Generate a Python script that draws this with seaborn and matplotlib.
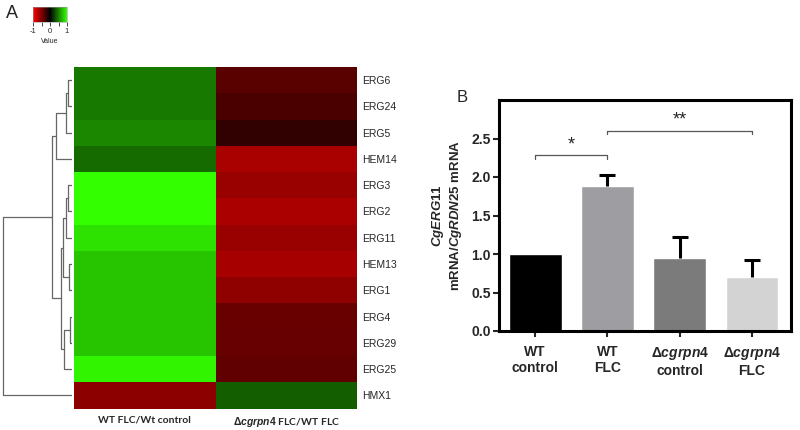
import numpy as np
import pandas as pd
import matplotlib
matplotlib.use('Agg')
import matplotlib.pyplot as plt
from matplotlib.colors import LinearSegmentedColormap
import seaborn as sns

sns.set_style('white')
plt.rcParams['font.family'] = ['Liberation Sans', 'DejaVu Sans']
plt.rcParams['mathtext.fontset'] = 'custom'
plt.rcParams['mathtext.it'] = 'Liberation Sans:italic:bold'
plt.rcParams['mathtext.rm'] = 'Liberation Sans:bold'
plt.rcParams['mathtext.bf'] = 'Liberation Sans:bold'

# panel A data (rows in dendrogram order)
genes = ['ERG6', 'ERG24', 'ERG5', 'HEM14', 'ERG3', 'ERG2', 'ERG11',
         'HEM13', 'ERG1', 'ERG4', 'ERG29', 'ERG25', 'HMX1']
wt_ratio = [0.47, 0.47, 0.53, 0.42, 1.0, 1.0, 0.88, 0.77, 0.77, 0.77, 0.77, 0.96, -0.55]
mut_ratio = [-0.35, -0.29, -0.19, -0.66, -0.60, -0.67, -0.60, -0.65, -0.56, -0.41, -0.40, -0.38, 0.37]
col_labels = ['WT FLC/Wt control', r'$\it{Δcgrpn4}$ FLC/WT FLC']

# dendrogram merges, scipy style: index >= 13 means earlier merge
merge_left = [0, 13, 14, 4, 16, 7, 17, 9, 20, 19, 15, 23]
merge_right = [1, 2, 3, 5, 6, 8, 18, 10, 11, 21, 22, 12]
merge_height = [4, 6, 16, 4, 6.5, 3.5, 9.5, 2.5, 8.5, 11.3, 20, 69]

# panel B data
groups = ['WT\ncontrol', 'WT\nFLC', '$\\it{Δcgrpn4}$\ncontrol', '$\\it{Δcgrpn4}$\nFLC']
expr = [1.0, 1.88, 0.95, 0.70]
expr_err = [0.0, 0.15, 0.27, 0.22]
bar_colors = ['#000000', '#9e9ea2', '#7b7b7b', '#d3d3d3']

fig = plt.figure(figsize=(8, 4.3), dpi=100)

# ---- heatmap
ax_h = fig.add_axes([74 / 800, (430 - 408.5) / 430, 283 / 800, 341.5 / 430])
ax_cb = fig.add_axes([33 / 800, (430 - 22) / 430, 34 / 800, 15 / 430])
cmap = LinearSegmentedColormap.from_list('rg', ['#ff0000', '#000000', '#33ff00'])
df = pd.DataFrame({'a': wt_ratio, 'b': mut_ratio}, index=genes)
sns.heatmap(df, ax=ax_h, cmap=cmap, vmin=-1, vmax=1, cbar_ax=ax_cb,
            cbar_kws={'orientation': 'horizontal', 'ticks': [-1, -0.5, 0, 0.5, 1]},
            xticklabels=col_labels, yticklabels=genes)
ax_h.yaxis.tick_right()
ax_h.tick_params(axis='y', length=0, pad=4, labelsize=7.5, rotation=0)
ax_h.tick_params(axis='x', length=0, pad=5, labelsize=7.5)
for t in ax_h.get_xticklabels():
    t.set_fontweight('bold')
    t.set_family(['Lato', 'DejaVu Sans'])

cb = ax_h.collections[0].colorbar
cb.set_ticklabels(['-1', '', '0', '', '1'])
cb.ax.tick_params(labelsize=5.5, length=3, width=0.6, pad=1.5)
cb.outline.set_linewidth(0.4)
cb.outline.set_edgecolor('#999999')
cb.ax.set_xlabel('Value', fontsize=5, labelpad=2)

# ---- dendrogram
ax_d = fig.add_axes([2 / 800, (430 - 408.5) / 430, 70 / 800, 341.5 / 430])
n = len(genes)
pos = {i: i + 0.5 for i in range(n)}
hgt = {i: 0.0 for i in range(n)}
for k, (a, b, h) in enumerate(zip(merge_left, merge_right, merge_height)):
    ax_d.plot([hgt[a], h, h, hgt[b]], [pos[a], pos[a], pos[b], pos[b]],
              color='#666666', lw=0.9)
    pos[n + k] = (pos[a] + pos[b]) / 2
    hgt[n + k] = h
ax_d.set_xlim(70, 0)
ax_d.set_ylim(n, 0)
ax_d.axis('off')

fig.text(6 / 800, 1 - 13 / 430, 'A', fontsize=13, va='center', ha='left')

# ---- bar chart
ax_b = fig.add_axes([499 / 800, (430 - 331) / 430, 292 / 800, 231 / 430])
bdf = pd.DataFrame({'group': groups, 'expr': expr})
sns.barplot(data=bdf, x='group', y='expr', hue='group', palette=bar_colors,
            width=0.73, errorbar=None, legend=False, ax=ax_b, saturation=1)

# upper-only error bars, skip bars without error
idx = [i for i, e in enumerate(expr_err) if e > 0]
ex = np.array(idx)
ey = np.array([expr[i] for i in idx])
ee = np.array([expr_err[i] for i in idx])
_, caps, _ = ax_b.errorbar(ex, ey, yerr=[np.zeros(len(ee)), ee], fmt='none',
                           ecolor='black', elinewidth=2.2, capsize=6, capthick=2.2)
caps[0].set_visible(False)

ax_b.set_xlim(-0.5, 3.54)
ax_b.set_ylim(0, 3.0)
ax_b.set_yticks([0, 0.5, 1.0, 1.5, 2.0, 2.5])
ax_b.set_yticklabels(['0.0', '0.5', '1.0', '1.5', '2.0', '2.5'])
for s in ax_b.spines.values():
    s.set_linewidth(2.2)
    s.set_color('black')
ax_b.tick_params(axis='both', direction='out', length=4, width=1.5, labelsize=10,
                 left=True, bottom=True, pad=2)
for t in ax_b.get_yticklabels():
    t.set_fontweight('bold')
ax_b.tick_params(axis='x', pad=6)
for t in ax_b.get_xticklabels():
    t.set_fontweight('bold')
ax_b.set_xlabel('')
ax_b.set_ylabel('$\\it{CgERG11}$\nmRNA/$\\it{CgRDN25}$ mRNA', fontsize=9.5,
                fontweight='bold', labelpad=5)

# significance brackets
def bracket(x0, x1, y, label):
    ax_b.plot([x0, x0, x1, x1], [y - 0.045, y, y, y - 0.045], color='#555555', lw=0.9)
    ax_b.text((x0 + x1) / 2, y + 0.03, label, ha='center', va='bottom', fontsize=13)

bracket(0, 1, 2.28, '*')
bracket(1, 3, 2.60, '**')

fig.text(457 / 800, 1 - 97 / 430, 'B', fontsize=12, va='center', ha='left')

fig.savefig('out.png', dpi=100)
